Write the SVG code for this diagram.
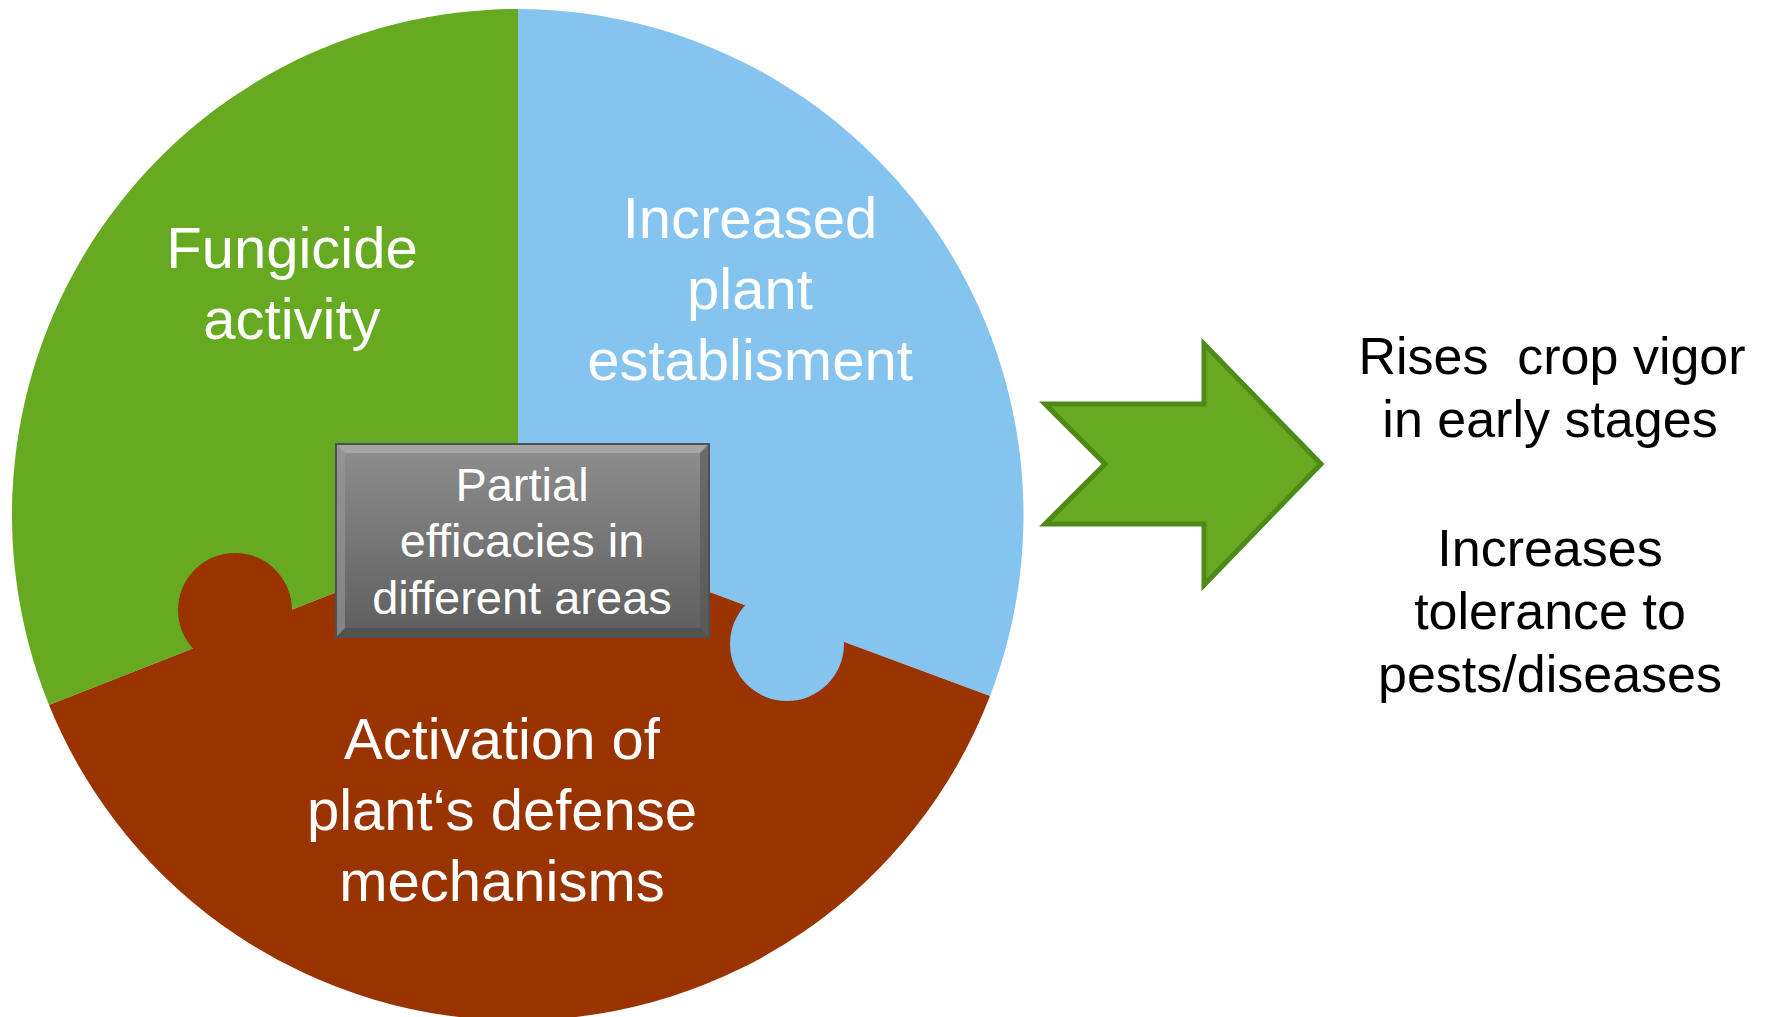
<svg xmlns="http://www.w3.org/2000/svg" width="1765" height="1017" viewBox="0 0 1765 1017">
<style>
.lbl{font-family:"Liberation Sans",Arial,sans-serif;fill:#ffffff;text-anchor:middle;font-size:58px}
.box{font-family:"Liberation Sans",Arial,sans-serif;fill:#ffffff;text-anchor:middle;font-size:47px}
.out{font-family:"Liberation Sans",Arial,sans-serif;fill:#000000;text-anchor:middle;font-size:52px;white-space:pre}
.green{fill:#66aa22}
.blue{fill:#85c4ee}
.brown{fill:#993300}
</style>
<defs>
<linearGradient id="gbox" x1="0" y1="0" x2="0" y2="1">
<stop offset="0" stop-color="#8e8e8e"/>
<stop offset="1" stop-color="#5e5e5e"/>
</linearGradient>
</defs>
<rect width="1765" height="1017" fill="#ffffff"/>
<g id="piece-fungicide">
<path class="green" d="M518,521 L518,9 A506,506 0 0 0 49,705 Z"/>
<circle class="green" cx="537" cy="255" r="57"/>
<text class="lbl" x="292" y="268">Fungicide</text>
<text class="lbl" x="292" y="339">activity</text>
</g>
<g id="piece-establishment">
<path class="blue" d="M518,521 L518,9 A506,506 0 0 1 990,696 Z"/>
<text class="lbl" x="750" y="238">Increased</text>
<text class="lbl" x="750" y="309">plant</text>
<text class="lbl" x="750" y="380">establisment</text>
</g>
<g id="piece-defense">
<path class="brown" d="M518,521 L990,696 A506,506 0 0 1 49,705 Z"/>
<circle class="brown" cx="235" cy="610" r="57"/>
<circle class="blue" cx="787" cy="644" r="57"/>
<text class="lbl" x="502" y="759">Activation of</text>
<text class="lbl" x="502" y="830">plant‘s defense</text>
<text class="lbl" x="502" y="901">mechanisms</text>
</g>
<g id="center-box">
<rect x="336" y="444" width="373" height="193" fill="url(#gbox)" stroke="#505050" stroke-width="2"/>
<polygon points="337,445 708,445 700,453 345,453" fill="#ababab" opacity="0.8"/>
<polygon points="337,636 708,636 700,628 345,628" fill="#4a4a4a" opacity="0.6"/>
<polygon points="337,445 345,453 345,628 337,636" fill="#9a9a9a" opacity="0.6"/>
<polygon points="708,445 700,453 700,628 708,636" fill="#555555" opacity="0.6"/>
<text class="box" x="522" y="501">Partial</text>
<text class="box" x="522" y="557">efficacies in</text>
<text class="box" x="522" y="614">different areas</text>
</g>
<g id="connectors">
<polygon points="1045,404 1204,404 1204,344 1321,464 1204,585 1204,524 1045,524 1105,464" fill="#66aa22" stroke="#4e8a18" stroke-width="5" stroke-linejoin="miter"/>
</g>
<g id="outcome">
<text class="out" x="1552" y="374" xml:space="preserve">Rises  crop vigor</text>
<text class="out" x="1550" y="437">in early stages</text>
<text class="out" x="1550" y="566">Increases</text>
<text class="out" x="1550" y="629">tolerance to</text>
<text class="out" x="1550" y="692">pests/diseases</text>
</g>
</svg>
